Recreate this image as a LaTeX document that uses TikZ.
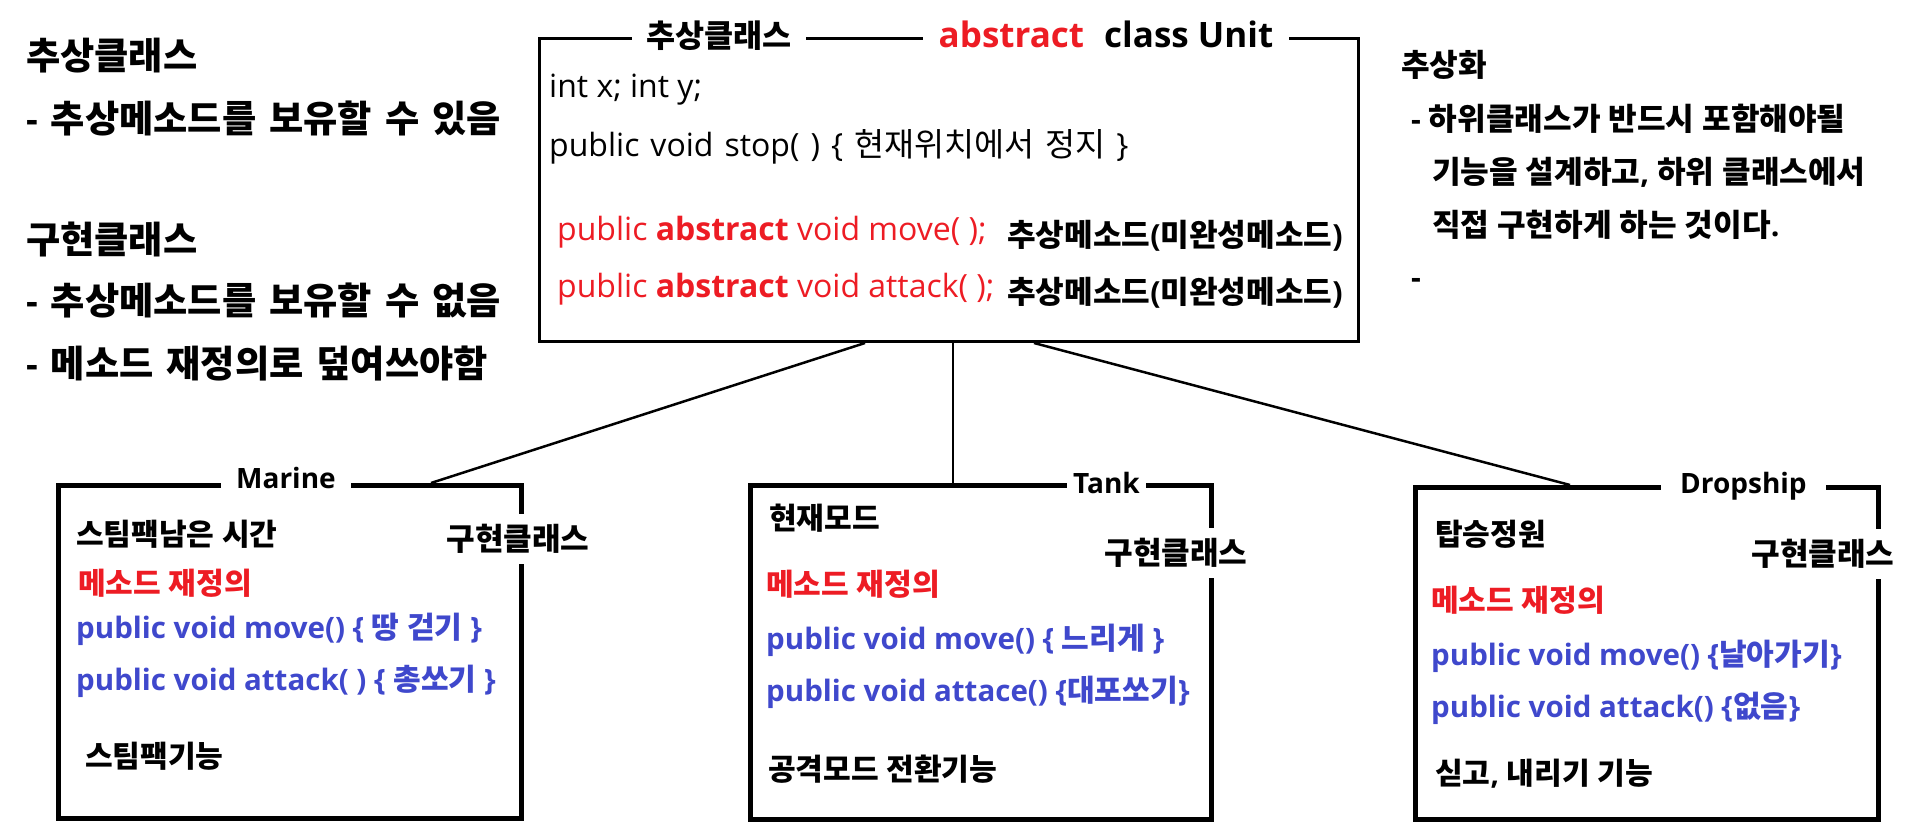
\documentclass[tikz,border=0pt]{standalone}
\usepackage{fontspec}
\setmainfont{Open Sans}
\newfontfamily\kofont[Scale=1.02]{Noto Sans CJK KR}
\makeatletter
\newXeTeXintercharclass\hangulclass
\@tempcnta="AC00
\loop
  \XeTeXcharclass\@tempcnta=\hangulclass
  \ifnum\@tempcnta<"D7A3 \advance\@tempcnta\@ne
\repeat
\XeTeXinterchartoks 0 \hangulclass = {\begingroup\kofont}
\XeTeXinterchartoks 4095 \hangulclass = {\begingroup\kofont}
\XeTeXinterchartoks \hangulclass 0 = {\endgroup}
\XeTeXinterchartoks \hangulclass 4095 = {\endgroup}
\makeatother
\XeTeXinterchartokenstate=1
\definecolor{pred}{RGB}{237,28,36}
\definecolor{pblue}{RGB}{63,72,204}
\newcommand\widespace[1]{\spaceskip=#1 plus 2pt\relax}
\tikzset{
  lbl/.style={inner sep=0pt, anchor=base west},
  leftf/.style={font=\fontsize{36.5}{44}\selectfont\bfseries\widespace{13pt}},
  rightf/.style={font=\fontsize{30.5}{36}\selectfont\bfseries},
  unitf/.style={font=\fontsize{32}{38}\selectfont},
  boxf/.style={font=\fontsize{29.5}{36}\selectfont\bfseries},
  subttl/.style={font=\fontsize{28}{34}\selectfont\bfseries, fill=white, anchor=base west, inner ysep=4pt},
  classbox/.style={draw, line width=4.5pt, anchor=north west, inner sep=0pt},
  conn/.style={line width=2.5pt},
  impl/.style={font=\fontsize{30.5}{36}\selectfont\bfseries, fill=white, inner xsep=2pt, inner ysep=10pt},
  blue/.style={text=pblue},
  redt/.style={text=pred}
}
\begin{document}
\begin{tikzpicture}[x=1pt, y=-1pt]
\useasboundingbox (0,0) rectangle (1925,840);
% boxes
\node[draw, line width=3pt, anchor=north west, minimum width=819pt, minimum height=303pt, inner sep=0pt] (unit) at (538,37) {};
\node[classbox, minimum width=463pt, minimum height=333pt] (marine) at (56,483) {};
\node[classbox, minimum width=461pt, minimum height=334pt] (tank) at (748,483) {};
\node[classbox, minimum width=463pt, minimum height=332pt] (drop) at (1413,485) {};
% connectors
\draw[conn] ([xshift=327pt]unit.south west) -- ([xshift=375pt]marine.north west);
\draw[conn] ([xshift=415pt]unit.south west) -- ([xshift=205pt]tank.north west);
\draw[conn] ([xshift=496pt]unit.south west) -- ([xshift=157pt]drop.north west);
% unit titles
\node[fill=white, anchor=base, inner xsep=14pt, inner ysep=4pt, font=\fontsize{31}{36}\selectfont\bfseries] (t1) at (719,48) {추상클래스};
\node[fill=white, anchor=base, inner xsep=16pt, inner ysep=4pt, font=\fontsize{35}{40}\selectfont\bfseries] (t2) at (1106,48) {\textcolor{pred}{abstract}\hspace{11pt} class Unit};
% unit content
\node[lbl, unitf] (u1) at (549,98) {int x; int y;};
\node[lbl, unitf] (u2) at (549,157) {\widespace{11pt}public void stop( ) \{ 현재위치에서 정지 \}};
\node[lbl, unitf, redt] (u3) at (557,240) {public \textbf{abstract} void move( );};
\node[lbl, font=\fontsize{30.5}{36}\selectfont\bfseries] (u4) at (1007,246) {추상메소드(미완성메소드)};
\node[lbl, unitf, redt] (u5) at (557,297) {public \textbf{abstract} void attack( );};
\node[lbl, font=\fontsize{30.5}{36}\selectfont\bfseries] (u6) at (1007,303) {추상메소드(미완성메소드)};
% left block
\node[lbl, leftf] (l1) at (26,70) {추상클래스};
\node[lbl, leftf] (l2) at (26,132) {- 추상메소드를 보유할 수 있음};
\node[lbl, leftf] (l3) at (26,253) {구현클래스};
\node[lbl, leftf] (l4) at (26,314) {- 추상메소드를 보유할 수 없음};
\node[lbl, leftf] (l5) at (26,377) {- 메소드 재정의로 덮여쓰야함};
% right block
\node[lbl, rightf] (r1) at (1401,77) {추상화};
\node[lbl, rightf] (r2) at (1411,131) {- 하위클래스가 반드시 포함해야될};
\node[lbl, rightf] (r3) at (1432,183) {기능을 설계하고, 하위 클래스에서};
\node[lbl, rightf] (r4) at (1432,236) {직접 구현하게 하는 것이다.};
\node[lbl, rightf] (r5) at (1411,288) {-};
% sub titles
\node[subttl, inner xsep=15pt] (mt) at (221,488) {Marine};
\node[subttl, inner xsep=6pt] (tt) at (1067,493) {Tank\hspace{22pt}};
\node[subttl, inner xsep=19pt] (dt) at (1661,493) {Dropship\hspace{8pt}};
% implementation labels
\node[impl] (mi) at (518,539) {구현클래스};
\node[impl] (ti) at (1176,553) {구현클래스};
\node[impl] (di) at (1823,554) {구현클래스};
% marine content
\node[lbl, boxf] (m1) at (76,545) {스팀팩남은 시간};
\node[lbl, boxf, redt] (m2) at (78,594) {메소드 재정의};
\node[lbl, boxf, blue] (m3) at (76,638) {public void move() \{ 땅 걷기 \}};
\node[lbl, boxf, blue] (m4) at (76,690) {public void attack( ) \{ 총쏘기 \}};
\node[lbl, boxf] (m5) at (85,767) {스팀팩기능};
% tank content
\node[lbl, boxf] (k1) at (769,529) {현재모드};
\node[lbl, boxf, redt] (k2) at (766,595) {메소드 재정의};
\node[lbl, boxf, blue] (k3) at (766,649) {public void move() \{ 느리게 \}};
\node[lbl, boxf, blue] (k4) at (766,701) {public void attace() \{대포쏘기\}};
\node[lbl, boxf] (k5) at (768,780) {공격모드 전환기능};
% dropship content
\node[lbl, boxf] (d1) at (1435,545) {탑승정원};
\node[lbl, boxf, redt] (d2) at (1431,611) {메소드 재정의};
\node[lbl, boxf, blue] (d3) at (1431,665) {public void move() \{날아가기\}};
\node[lbl, boxf, blue] (d4) at (1431,717) {public void attack() \{없음\}};
\node[lbl, boxf] (d5) at (1435,784) {싣고, 내리기 기능};
\end{tikzpicture}
\end{document}
